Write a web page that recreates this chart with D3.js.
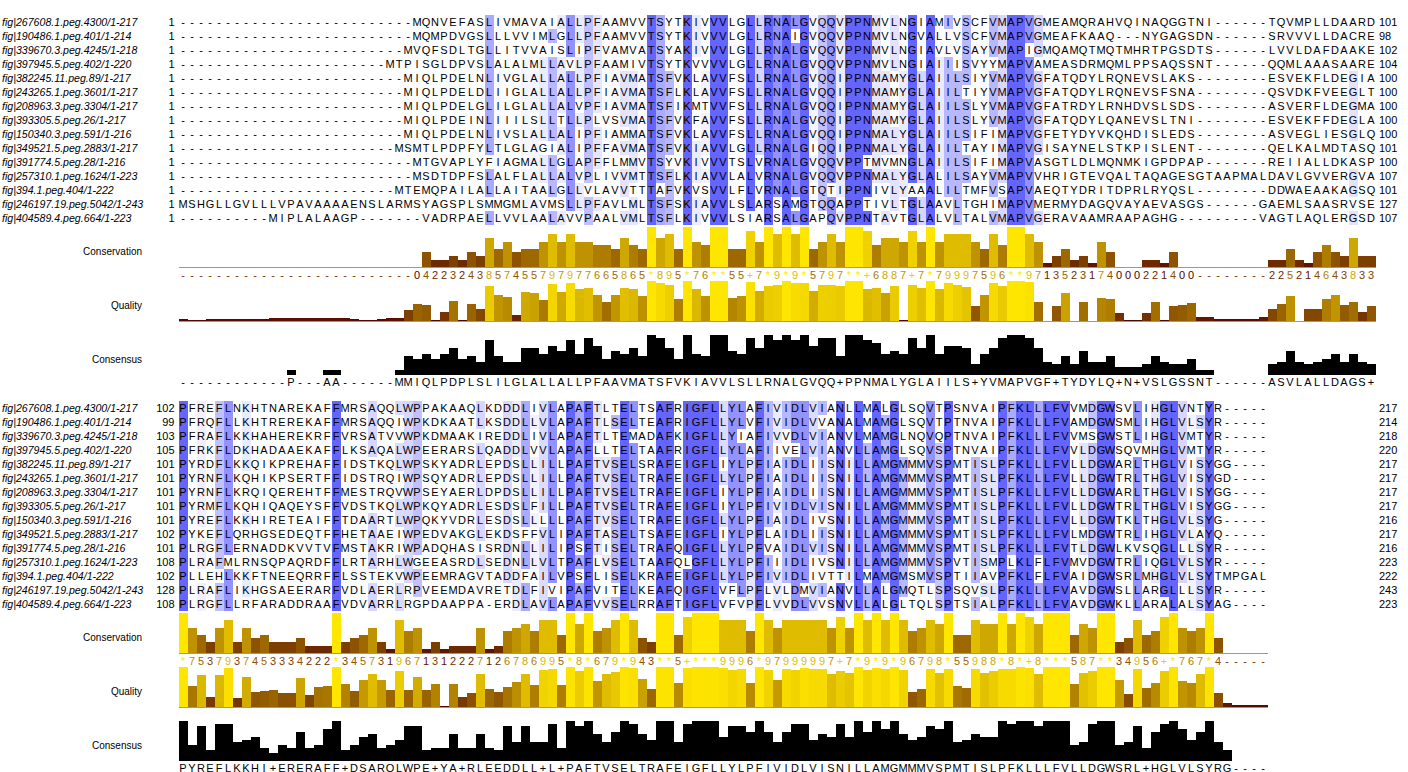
<!DOCTYPE html>
<html><head><meta charset="utf-8">
<script src="https://cdn.jsdelivr.net/npm/d3@7"></script>
<style>
body{margin:0;background:#fff}
text{font-family:"Liberation Sans",Arial,Helvetica,sans-serif}
</style>
</head><body>
<svg id="c" width="1408" height="772"></svg>
<script>
// ---------------- DATA ----------------
const seqNames = ["fig|267608.1.peg.4300/1-217","fig|190486.1.peg.401/1-214","fig|339670.3.peg.4245/1-218","fig|397945.5.peg.402/1-220","fig|382245.11.peg.89/1-217","fig|243265.1.peg.3601/1-217","fig|208963.3.peg.3304/1-217","fig|393305.5.peg.26/1-217","fig|150340.3.peg.591/1-216","fig|349521.5.peg.2883/1-217","fig|391774.5.peg.28/1-216","fig|257310.1.peg.1624/1-223","fig|394.1.peg.404/1-222","fig|246197.19.peg.5042/1-243","fig|404589.4.peg.664/1-223"];
const topStart = [1,1,1,1,1,1,1,1,1,1,1,1,1,1,1];
const topEnd   = [101,98,102,104,100,100,100,100,100,101,100,107,101,127,107];
const botStart = [102,99,103,105,101,101,101,101,101,102,101,108,102,128,108];
const botEnd   = [217,214,218,220,217,217,217,217,216,217,216,223,222,243,223];

const topRows = [
"----------"+"----------"+"------"+"MQNVEFASLIVMAVAIALLPFAAMVVTSYTKIVVVLGLLRNALGVQQVPPNMVLNGIAMIVSCFVMAPVGMEAMQRAHVQINAQGGTNI"+"------"+"TQVMPLLDAARD",
"----------"+"----------"+"------"+"MQMPDVGSLLLVVIMLGLLPFAAMVVTSYTKIVVVLGLLRNAIGVQQVPPNMVLNGVALLVSCFVMAPVGMEAFKAAQ"+"---"+"NYGAGSDN"+"------"+"SRVVVLLDACRE",
"----------"+"----------"+"-----"+"MVQFSDLTGLLITVVAISLIPFVAMVATSYAKIVVVLGLLRNALGVQQVPPNMVLNGIAVLVSAYVMAPIGMQAMQTMQTMHRTPGSDTS"+"------"+"LVVLDAFDAAKE",
"----------"+"----------"+"---"+"MTPISGLDPVSLALALMLLAVLPFAAMIVTSYTKVVVVLGLLRNALGVQQVPPNMVLNGIAIIISVYYMAPVAMEASDRMQMLPPSAQSSNT"+"------"+"QQMLAAASAARE",
"----------"+"----------"+"-----"+"MIQLPDELNLIVGLALLALLPFIAVMATSFVKLAVVFSLLRNALGVQQIPPNMAMYGLAIILSIYVMAPVGFATQDYLRQNEVSLAKS"+"--------"+"ESVEKFLDEGIA",
"----------"+"----------"+"-----"+"MIQLPDELDLIIGLALLALLPFIAVMATSFLKLAVVFSLLRNALGVQQIPPNMAMYGLAIILTIYVMAPVGFATQDYLRQNEVSFSNA"+"--------"+"QSVDKFVEEGLT",
"----------"+"----------"+"-----"+"MIQLPDELGLILGLALLALVPFIAVMATSFIKMTVVFSLLRNALGVQQIPPNMAMYGLAIILSLYVMAPVGFATRDYLRNHDVSLSDS"+"--------"+"ASVERFLDEGMA",
"----------"+"----------"+"-----"+"MIQLPDEINLIIILSLLTLLPLVSVMATSFVKFAVVFSLLRNALGVQQIPPNMAMYGLAIILSLYVMAPVGFATQDYLQANEVSLTNI"+"--------"+"ESVEKFFDEGLA",
"----------"+"----------"+"-----"+"MIQLPDELNLIVSLALLALIPFIAMMATSFVKLAVVFSLLRNALGVQQIPPNMALYGLAIILSIFIMAPVGFETYDYVKQHDISLEDS"+"--------"+"ASVEGLIESGLQ",
"----------"+"----------"+"----"+"MSMTLPDPFYLTLGLAGIALIPFFAVMATSFVKIAVVLGLLRNALGIQQIPPNMALYGLAIILTAYIMAPVGISAYNELSTKPISLENT"+"--------"+"QELKALMDTASQ",
"----------"+"----------"+"------"+"MTGVAPLYFIAGMALLGLAPFFLMMVTSYVKIVVVTSLVRNALGVQQVPPTMVMNGLAIILSIFIMAPVASGTLDLMQNMKIGPDPAP"+"-------"+"REIIALLDKASP",
"----------"+"----------"+"------"+"MSDTDPFSLALFLALLALVPLIVVMTTSFLKIAVVLALVRNALGVQQVPPNMALYGLALILSAYVMAPVVHRIGTEVQALTAQAGESGTAAPMALDAVLGVVERGVA",
"----------"+"----------"+"----"+"MTEMQPAILALLAITAALGLLVLAVVTTTAFVKVSVVLFLVRNALGTQTIPPNIVLYAAALILTMFVSAPVAEQTYDRITDPRLRYQSL"+"--------"+"DDWAEAAKAGSQ",
"MSHGLLGVLLLVPAVAAAAENSLARMSYAGSPLSMMGMLAVMSLLPFAVLMLTSFSKIAVVLSLARSAMGTQQAPPTIVLTGLAAVLTGHIMAPVMERMYDAGQVAYAEVASGS"+"------"+"GAEMLSAASRVSE",
"----------"+"MIPLALAAGP"+"-------"+"VADRPAELLVVLAALAVVPAALVMLTSFLKIVVVLSIARSALGAPQVPPNTAVTGLALVLTALVMAPVGERAVAAMRAAPAGHG"+"---------"+"VAGTLAQLERGSD"
];

const botRows = [
"PFREFLNKHTNAREKAFFMRSAQQLWPPAKAAQLKDDDLIVLAPAFTLTELTSAFRIGFLLYLAFIVIDLVIANLLMALGLSQVTPSNVAIPFKLLLFVVMDGWSVLIHGLVNTYR"+"-----",
"PFRQFLLKHTREREKAFFMRSAQQIWPKDKAATLKSDDLLVLAPAFTLSELTEAFRIGFLLYLVFIVIDLVVANALMAMGLSQVTPTNVAIPFKLLLFVAMDGWSMLIHGLVLSYR"+"-----",
"PFRAFLKKHAHEREKRFFVRSATVVWPKDMAAKIREDDLIVLAPAFTLTEMADAFKIGFLLYIAFIVVDLVIANVLMAMGLNQVQPTNVAIPFKLLLFVVMSGWSTLIHGLVMTYR"+"-----",
"PFRKFLDKHADAAEKAFFLKSAQALWPEERARSLQADDLVVLAPAFLLTELTAAFRIGFLLYLAFIIVELVIANVLLAMGLSQVSPTNVAIPFKLLLFVVLDGWSQVMHGLVMTYR"+"-----",
"PYRDFLKKQIKPREHAFFIDSTKQLWPSKYADRLEPDSLLILLPAFTVSELSRAFEIGFLIYLPFIAIDLIISNILLAMGMMMVSPMTISLPFKLLLFVLLDGWARLTHGLVISYGG"+"----",
"PYRNFLKQHIKPSERTFFIDSTRQIWPSQYADRLEPDSLLILLPAFTVSELTRAFEIGFLLYLPFIAIDLIISNILLAMGMMMVSPMTISLPFKLLLFVLLDGWTRLTHGLVISYGD"+"----",
"PYRNFLKRQIQEREHTFFMESTRQVWPSEYAERLDPDSLLILLPAFTVSELTRAFEIGFLIYLPFIAIDLIISNILLAMGMMMVSPMTISLPFKLLLFVLLDGWARLTHGLVISYGG"+"----",
"PYRMFLKQHIQAQEYSFFVDSTKQLWPKQYADRLESDSLFILLPAFTVSELTRAFEIGFLIYLPFIVIDLVISNILLAMGMMMVSPMTISLPFKLLLFVLLDGWTRLTHGLVISYGG"+"----",
"PYREFLKKHIRETEAIFFTDAARTLWPQKYVDRLESDSLLLLLPAFTVSELTRAFEIGFLLYLPFIAIDLIVSNILLAMGMMMVSPMTISLPFKLLLFVLLDGWTKLTHGLVLSYG"+"-----",
"PYKEFLQRHGSEDEQTFFHETAAEIWPEDVAKGLEKDSFFVLIPAFTASELTSAFEIGFLIYLPFLAIDLIISNILLAMGMMMVSPMTISLPFKLLLFVLMDGWTRLIHGLVLAYQ"+"-----",
"PLRGFLERNADDKVVTVFMSTAKRIWPADQHASISRDNLLILIPSFTISELTRAFQIGFLLYLPFVAIDLVISNILLAMGMMMVSPMTISLPFKLLLFVTLDGWLKVSQGLLLSYR"+"-----",
"PLRAFMLRNSQPAQRDFFLRTARHLWGEEASRDLSEDNLLVLTPAFLVSELTAAFQLGFLLYLPFIIIDLIVSNILLAMGMMMVSPVTISMPLKLFLFVMVDGWTRLIQGLVLSYR"+"-----",
"PLLEHLKKFTNEEQRRFFLSSTEKVWPEEMRAGVTADDFAILVPSFLISELKRAFEIGFLLYLPFIVIDLIVTTILMAMGMSMVSPTIIAVPFKLFLFVAIDGWSRLMHGLVLSYTMPGAL",
"PLRAFLIKHGSAEERARFVDLAERLRPVEEMDAVRETDLFIVIPAFVITELKEAFQIGFLVFLPFLVLDMVIANVLLALGMQTLSPSQVSLPFKLLLFVAVDGWSLLARGLLLSYR"+"-----",
"PLRGFLLRFARADDRAAFVDVARRLRGPDAAPPA-ERDLAVLAPAFVVSELRRAFTIGFLVFVPFLVVDLVVSNVLLALGLTQLSPTSIALPFKLLLFVAVDGWKLLARALALSYAG"+"----"
];

// Conservation score per column ('*'=11, '+'=10, '-'=gapped)
const topConservation = "----------"+"----------"+"------"+"04223243857455797977665865*895*76**55"+"+7*9*9*5797**+6887+7*79997596**9713523174000221400"+"--------"+"225214643833";
const botConservation = "*7537937453334222*3457319671312227126786995*8*679*943**5+***9996*97999997+7*9*9*96798*55988*8*+8***587**34956+*767*4-----";

// Alignment quality (fraction of maximum)
const topQuality = [0.04,0.02,0.02,0.05,0.05,0.05,0.05,0.05,0.05,0.05,
0.07,0.07,0.07,0.07,0.07,0.07,0.07,0.07,0.07,0.05,
0.02,0.02,0.04,0.07,0.07,0.28,0.43,0.40,0.02,0.23,
0.50,0.03,0.43,0.31,0.88,0.65,0.60,0.16,0.73,0.70,
0.53,0.93,0.73,0.95,0.80,0.83,0.65,0.48,0.65,0.83,
0.80,0.63,1.00,0.95,0.90,0.55,1.00,0.80,0.63,1.00,
1.00,0.58,0.63,0.98,0.75,0.88,0.90,1.00,0.96,0.94,
0.75,0.90,0.90,0.88,1.00,1.00,0.80,0.83,0.70,0.88,
0.03,0.90,0.83,1.00,0.80,0.95,0.90,0.85,0.38,0.65,
0.95,0.88,1.00,1.00,0.98,0.48,0.00,0.38,0.70,0.00,
0.48,0.00,0.58,0.55,0.21,0.02,0.02,0.21,0.48,0.02,
0.38,0.40,0.45,0.11,0.11,0.05,0.05,0.05,0.05,0.05,
0.11,0.31,0.43,0.63,0.00,0.31,0.31,0.55,0.65,0.40,
0.48,0.23,0.38];
const botQuality = [1.00,0.52,0.80,0.25,0.80,0.97,0.23,0.75,0.38,0.40,
0.43,0.35,0.35,0.72,0.30,0.50,0.52,1.00,0.57,0.40,
0.67,0.82,0.67,0.43,0.89,0.43,0.75,0.43,0.57,0.03,
0.57,0.25,0.35,0.82,0.45,0.38,0.50,0.62,0.82,0.55,
0.92,0.94,0.55,0.99,0.89,0.99,0.65,0.82,0.87,0.99,
0.97,0.70,0.45,0.99,0.99,0.60,0.97,0.99,0.99,0.99,
0.97,0.93,0.95,0.60,1.00,0.92,0.67,0.95,0.92,0.97,
0.95,0.95,0.82,0.89,0.85,1.00,0.92,0.97,0.94,1.00,
0.92,0.38,0.45,0.95,0.84,0.95,0.52,0.47,0.95,0.84,
0.89,0.95,0.95,0.99,0.97,0.82,1.00,1.00,1.00,0.57,
0.84,0.89,1.00,1.00,0.67,0.33,0.94,0.47,0.60,0.89,
0.99,0.65,0.60,0.82,0.99,0.35,0.10,0.05,0.05,0.05,
0.05];

const topConsensus = "------------P---AA------MMIQLPDPLSLILGLALLALLPFAAVMATSFVKIAVVLSLLRNALGVQQ+PPNMALYGLAIILS+YVMAPVGF+TYDYLQ+N+VSLGSSNT------ASVLALLDAGS+";
const botConsensus = "PYREFLKKHI+ERERAFF+DSARQLWPE+YA+RLEEDDLL+L+PAFTVSELTRAFEIGFLLYLPFIVIDLVISNILLAMGMMMVSPMTISLPFKLLLFVLLDGWSRL+HGLVLSYRG----";

const annotationLabels = ["Conservation","Quality","Consensus"];

// ---------------- DRAWING ----------------
const COLW = 9, X0 = 178.5, ROWH = 14;
const svg = d3.select("#c");
const x = d3.scaleLinear().domain([0, 133]).range([X0, X0 + 133 * COLW]);
const hCons = d3.scaleLinear().domain([0, 11]).range([0, 40]);
const hQual = d3.scaleLinear().domain([0, 1]).range([0, 40]);
const hPid  = d3.scaleLinear().domain([0, 100]).range([0, 40]);

const gradColour = p => { p = Math.max(0, Math.min(1, p));
  return d3.rgb(Math.round(255*(0.3+0.7*p)), Math.round(255*0.9*p), 0).toString(); };
const consValue = ch => ch === '*' ? 11 : ch === '+' ? 10 : (ch >= '0' && ch <= '9') ? +ch : null;

function drawBlock(rows, starts, ends, cons, qual, consensus, off) {
  const n = rows[0].length, ns = rows.length;
  const y = d3.scaleBand().domain(d3.range(ns)).range([15 + off, 15 + off + ROWH * ns]);
  const g = svg.append("g");

  // column statistics (modal residues, percent identity)
  const stats = d3.range(n).map(c => {
    const col = rows.map(r => r[c]).filter(ch => ch !== '-');
    const counts = d3.rollup(col, v => v.length, d => d);
    let max = 0; counts.forEach(v => { if (v >= 2 && v > max) max = v; });
    const modal = new Set(); counts.forEach((v, k) => { if (max >= 2 && v === max) modal.add(k); });
    return { modal, pid: max / ns * 100 };
  });

  // percentage-identity shading, modulated by conservation
  const cells = [];
  rows.forEach((r, i) => {
    for (let c = 0; c < n; c++) {
      const ch = r[c];
      if (ch === '-' || !stats[c].modal.has(ch)) continue;
      const pid = stats[c].pid;
      let v = pid > 80 ? 100 : pid > 60 ? 153 : pid > 40 ? 204 : null;
      if (v === null) continue;
      const cs = cons[c];
      if (cs === '-') continue;
      if (cs !== '*' && cs !== '+') {
        const f = (11 - (+cs)) / 10 * 1.5;
        v = Math.min(255, v + (255 - v) * f);
      }
      if (v >= 254.5) continue;
      v = Math.round(v);
      cells.push({ i, c, fill: d3.rgb(v, v, 255).toString() });
    }
  });
  g.append("g").attr("shape-rendering", "crispEdges").selectAll("rect").data(cells).join("rect")
    .attr("x", d => x(d.c)).attr("y", d => y(d.i)).attr("width", COLW).attr("height", y.bandwidth())
    .attr("fill", d => d.fill);

  // sequence names and start/end numbers
  g.append("g").selectAll("text").data(seqNames).join("text")
    .attr("x", 2).attr("y", (d, i) => y(i) + 11).attr("font-size", 10.6).attr("font-style", "italic").text(d => d);
  g.append("g").selectAll("text").data(starts).join("text")
    .attr("x", 174.5).attr("y", (d, i) => y(i) + 11).attr("font-size", 11).attr("text-anchor", "end").text(d => d);
  g.append("g").selectAll("text").data(ends).join("text")
    .attr("x", 1379).attr("y", (d, i) => y(i) + 11).attr("font-size", 11).text(d => d);

  // residues
  const chars = [];
  rows.forEach((r, i) => { for (let c = 0; c < n; c++) chars.push({ i, c, ch: r[c] }); });
  g.append("g").attr("font-size", 11).attr("text-anchor", "middle").selectAll("text").data(chars).join("text")
    .attr("x", d => x(d.c) + COLW / 2).attr("y", d => y(d.i) + 11).text(d => d.ch);

  // annotation rows
  const consBase = 267.5 + off, qualBase = 321.5 + off, pidBase = 375.5 + off;
  const labelY = [255 + off, 309 + off, 363 + off];
  g.append("g").selectAll("text").data(annotationLabels).join("text")
    .attr("x", 142).attr("y", (d, i) => labelY[i]).attr("font-size", 10).attr("text-anchor", "end").text(d => d);

  const bars = g.append("g").attr("shape-rendering", "crispEdges");
  // conservation
  const consData = d3.range(n).map(c => ({ c, v: consValue(cons[c]), ch: cons[c] }));
  bars.append("g").selectAll("rect").data(consData.filter(d => d.v)).join("rect")
    .attr("x", d => x(d.c)).attr("width", COLW)
    .attr("y", d => consBase - 0.5 - hCons(d.v)).attr("height", d => hCons(d.v))
    .attr("fill", d => gradColour(d.v / 11));
  g.append("g").attr("font-size", 11).attr("text-anchor", "middle").selectAll("text").data(consData).join("text")
    .attr("x", d => x(d.c) + COLW / 2).attr("y", 279 + off)
    .attr("fill", d => d.v === null ? "#7a3000" : gradColour(d.v / 11)).text(d => d.ch);
  // quality
  bars.append("g").selectAll("rect").data(qual.map((q, c) => ({ q, c })).filter(d => d.q > 0)).join("rect")
    .attr("x", d => x(d.c)).attr("width", COLW)
    .attr("y", d => qualBase - 0.5 - hQual(d.q)).attr("height", d => Math.max(1, hQual(d.q)))
    .attr("fill", d => gradColour(d.q));
  // consensus
  bars.append("g").selectAll("rect").data(stats.map((s, c) => ({ p: s.pid, c })).filter(d => d.p > 0)).join("rect")
    .attr("x", d => x(d.c)).attr("width", COLW)
    .attr("y", d => pidBase - 0.5 - hPid(d.p)).attr("height", d => hPid(d.p))
    .attr("fill", "#000");
  g.append("g").attr("font-size", 11).attr("text-anchor", "middle").selectAll("text").data(consensus.split("")).join("text")
    .attr("x", (d, c) => x(c) + COLW / 2).attr("y", 386 + off).text(d => d);

  // baselines
  g.append("g").attr("shape-rendering", "crispEdges").selectAll("line").data([consBase, qualBase]).join("line")
    .attr("x1", X0).attr("x2", x(n)).attr("y1", d => d).attr("y2", d => d)
    .attr("stroke", "#999").attr("stroke-width", 1);
}

drawBlock(topRows, topStart, topEnd, topConservation, topQuality, topConsensus, 0);
drawBlock(botRows, botStart, botEnd, botConservation, botQuality, botConsensus, 386);
</script>
</body></html>
